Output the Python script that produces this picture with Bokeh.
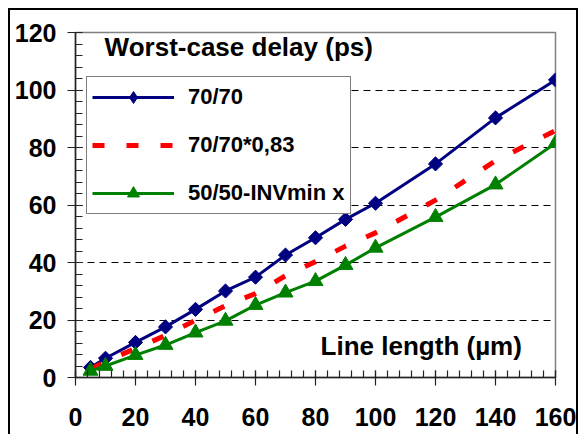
import math
from bokeh.plotting import figure
from bokeh.models import (Range1d, SingleIntervalTicker, FixedTicker, Legend, LegendItem, Label)
from bokeh.embed import file_html
from bokeh.resources import INLINE

# ---- data ----
line_length = [5, 10, 20, 30, 40, 50, 60, 70, 80, 90, 100, 120, 140, 160]
delay_7070 = [3.5, 6.7, 12.2, 17.6, 23.7, 30.1, 34.9, 42.6, 48.6, 55.0, 60.6, 74.3, 90.3, 103.5]
delay_7070_083 = [2.9, 5.6, 10.1, 14.6, 19.9, 25.0, 29.2, 35.4, 40.3, 45.7, 50.3, 61.7, 75.4, 85.9]
delay_inv = [2.3, 4.0, 7.8, 11.3, 15.6, 19.7, 25.2, 29.5, 33.5, 39.1, 45.1, 55.8, 67.1, 81.5]
series_names = ["70/70", "70/70*0,83", "50/50-INVmin x"]
y_title = "Worst-case delay (ps)"
x_title = "Line length (\u00b5m)"

FONT = "Liberation Sans"

p = figure(width=580, height=434, output_backend="svg", toolbar_location=None,
           x_range=Range1d(0, 160), y_range=Range1d(0, 120),
           min_border_left=75, min_border_right=25, min_border_top=32, min_border_bottom=57)
p.border_fill_color = None
p.background_fill_color = "white"
p.styles = {"background": (
    "linear-gradient(#000,#000) 8px 8px / 2px calc(100% - 8px) no-repeat, "
    "linear-gradient(#000,#000) 8px 8px / 570px 2px no-repeat, "
    "linear-gradient(#000,#000) 576px 8px / 2px calc(100% - 8px) no-repeat, white")}
p.outline_line_color = "#808080"
p.outline_line_width = 1.5

for ax in (p.xaxis[0], p.yaxis[0]):
    ax.ticker = SingleIntervalTicker(interval=20, num_minor_ticks=5)
    ax.axis_line_color = "#222222"
    ax.axis_line_width = 1.5
    ax.major_tick_line_color = "#222222"
    ax.minor_tick_line_color = "#222222"
    ax.major_tick_line_width = 1.2
    ax.minor_tick_line_width = 1.2
    ax.major_tick_in = 7
    ax.major_tick_out = 8
    ax.minor_tick_in = 7
    ax.minor_tick_out = 0
    ax.major_label_text_font = FONT
    ax.major_label_text_font_style = "bold"
    ax.major_label_text_font_size = "25px"
    ax.major_label_text_color = "black"
p.yaxis.major_label_standoff = 11
p.xaxis.major_label_standoff = 22

p.xgrid.visible = False
p.ygrid.ticker = FixedTicker(ticks=[20, 40, 60, 80, 100])
p.ygrid.grid_line_color = "black"
p.ygrid.grid_line_dash = "7 5"
p.ygrid.grid_line_width = 1

NAVY, RED, GREEN = "#000080", "#ff0000", "#008000"

l1 = p.line(line_length, delay_7070, line_color=NAVY, line_width=3)
# diamond (used as legend glyph), hidden under the rotated-square markers
d1 = p.scatter(line_length, delay_7070, marker="diamond", size=12,
               fill_color=NAVY, line_color=NAVY)
m1 = p.scatter(line_length, delay_7070, marker="square", angle=math.pi / 4, size=10,
               fill_color=NAVY, line_color=NAVY)
l2 = p.line(line_length, delay_7070_083, line_color=RED, line_width=5, line_dash="12 22")
l3 = p.line(line_length, delay_inv, line_color=GREEN, line_width=3)
m3 = p.scatter(line_length, delay_inv, marker="triangle", size=15,
               fill_color=GREEN, line_color=GREEN)

legend = Legend(items=[LegendItem(label=series_names[0], renderers=[l1, d1]),
                       LegendItem(label=series_names[1], renderers=[l2]),
                       LegendItem(label=series_names[2], renderers=[l3, m3])],
                location=(11, 163))
legend.label_text_font = FONT
legend.label_text_font_style = "bold"
legend.label_text_font_size = "22px"
legend.label_text_color = "black"
legend.glyph_width = 82
legend.glyph_height = 30
legend.label_height = 30
legend.label_standoff = 14
legend.spacing = 18
legend.padding = 5
legend.margin = 0
legend.border_line_color = "black"
legend.border_line_width = 1.5
legend.background_fill_color = "white"
legend.background_fill_alpha = 1
p.add_layout(legend, "center")

p.add_layout(Label(x=9.7, y=115.0, text=y_title, text_font=FONT, text_font_style="bold",
                   text_font_size="26px", text_color="black", text_baseline="alphabetic"))
p.add_layout(Label(x=81.7, y=11.0, text=x_title, text_font=FONT, text_font_style="bold",
                   text_font_size="26px", text_color="black", text_baseline="alphabetic"))

open("out.html", "w").write(file_html(p, INLINE))
